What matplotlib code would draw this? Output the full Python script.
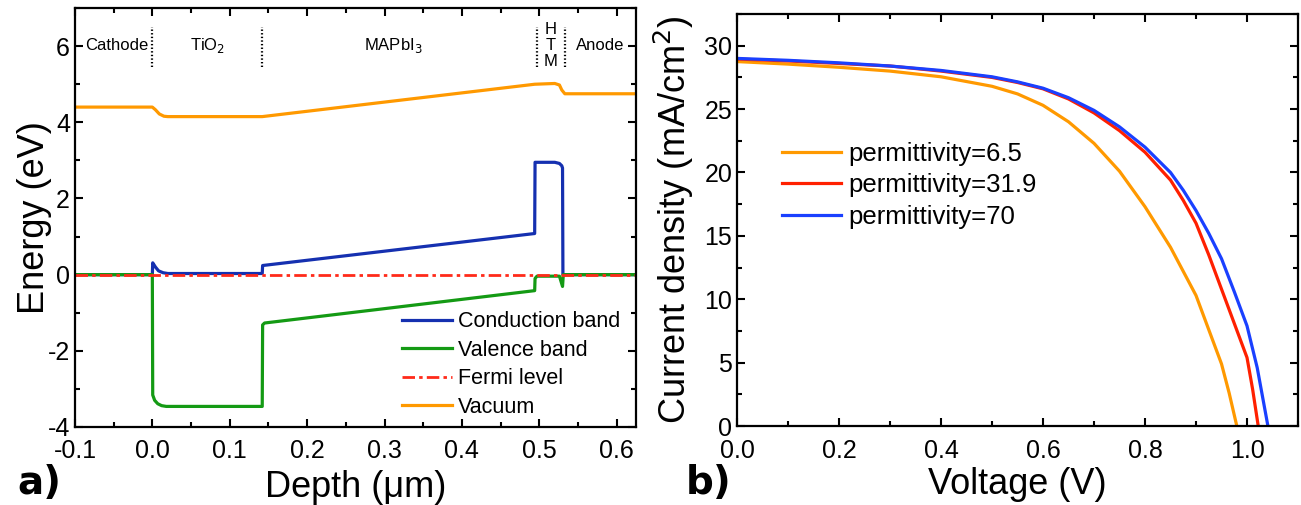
import matplotlib
matplotlib.use("Agg")
import matplotlib.pyplot as plt
from matplotlib.ticker import MultipleLocator, FormatStrFormatter

plt.rcParams['font.family'] = ['Liberation Sans', 'DejaVu Sans']
plt.rcParams['axes.unicode_minus'] = False
plt.rcParams['lines.scale_dashes'] = False

# ---- band diagram (a) ----
vac_x = [-0.1, 0.0, 0.004, 0.009, 0.015, 0.02, 0.142, 0.494, 0.52, 0.526, 0.529, 0.533, 0.625]
vac_e = [4.4, 4.4, 4.33, 4.22, 4.16, 4.15, 4.15, 5.0, 5.02, 4.98, 4.85, 4.75, 4.75]

cb_x = [-0.1, 0.0, 0.0005, 0.004, 0.008, 0.014, 0.02, 0.142, 0.1425, 0.494, 0.4945, 0.52, 0.526, 0.529, 0.530, 0.5305, 0.625]
cb_e = [0.0, 0.0, 0.31, 0.2, 0.1, 0.05, 0.03, 0.03, 0.24, 1.08, 2.95, 2.95, 2.92, 2.86, 2.8, 0.0, 0.0]

vb_x = [-0.1, 0.0, 0.0005, 0.003, 0.007, 0.012, 0.018, 0.142, 0.1425, 0.145, 0.494, 0.4945, 0.497, 0.526, 0.530, 0.531, 0.625]
vb_e = [0.0, 0.0, -3.16, -3.3, -3.39, -3.44, -3.46, -3.46, -1.32, -1.27, -0.42, -0.1, -0.04, -0.04, -0.31, 0.0, 0.0]

fermi_x = [-0.1, 0.625]
fermi_e = [0.0, 0.0]

boundaries = [0.0, 0.142, 0.497, 0.533]
regions = ['Cathode', 'TiO$_2$', 'MAPbI$_3$', 'H\nT\nM', 'Anode']
region_x = [-0.046, 0.071, 0.311, 0.515, 0.578]

# ---- J-V curves (b) ----
v_65 = [0.0, 0.1, 0.2, 0.3, 0.4, 0.5, 0.55, 0.6, 0.65, 0.7, 0.75, 0.8, 0.85, 0.9, 0.925, 0.95, 0.965, 0.98]
j_65 = [28.75, 28.55, 28.3, 28.0, 27.55, 26.8, 26.2, 25.3, 24.0, 22.3, 20.1, 17.3, 14.1, 10.3, 7.6, 4.9, 2.6, 0.0]

v_319 = [0.0, 0.1, 0.2, 0.3, 0.4, 0.5, 0.55, 0.6, 0.65, 0.7, 0.75, 0.8, 0.85, 0.875, 0.9, 0.925, 0.95, 0.975, 1.0, 1.011, 1.022]
j_319 = [28.95, 28.8, 28.6, 28.4, 28.0, 27.5, 27.1, 26.6, 25.8, 24.7, 23.3, 21.6, 19.4, 17.8, 16.0, 13.5, 10.8, 8.1, 5.4, 2.9, 0.0]

v_70 = [0.0, 0.1, 0.2, 0.3, 0.4, 0.5, 0.55, 0.6, 0.65, 0.7, 0.75, 0.8, 0.85, 0.875, 0.9, 0.925, 0.95, 0.975, 1.0, 1.02, 1.041]
j_70 = [29.0, 28.85, 28.65, 28.4, 28.05, 27.55, 27.15, 26.65, 25.9, 24.9, 23.6, 22.0, 20.0, 18.6, 17.0, 15.2, 13.2, 10.6, 7.9, 4.6, 0.0]

fig = plt.figure(figsize=(13.01, 5.05), dpi=100)
ax1 = fig.add_axes([0.0576, 0.1545, 0.4313, 0.8295])
ax2 = fig.add_axes([0.5665, 0.1564, 0.4312, 0.8158])

lw = 2.3
h_vac, = ax1.plot(vac_x, vac_e, color='#ff9900', lw=lw, label='Vacuum')
h_cb, = ax1.plot(cb_x, cb_e, color='#1530b0', lw=lw, label='Conduction band')
h_vb, = ax1.plot(vb_x, vb_e, color='#149a14', lw=lw, label='Valence band')
h_f, = ax1.plot(fermi_x, fermi_e, color='#ff2a1a', lw=2.0, dashes=(9, 3, 2.5, 3), label='Fermi level')

for b in boundaries:
    ax1.plot([b, b], [5.45, 6.5], color='black', lw=1.6, ls=(0, (1, 1.6)))
for name, xr in zip(regions, region_x):
    ax1.text(xr, 6.02, name, ha='center', va='center', fontsize=12, linespacing=1.1)

ax1.set_xlim(-0.1, 0.625)
ax1.set_ylim(-4, 7)
ax1.xaxis.set_major_locator(MultipleLocator(0.1))
ax1.xaxis.set_minor_locator(MultipleLocator(0.05))
ax1.xaxis.set_major_formatter(FormatStrFormatter('%.1f'))
ax1.yaxis.set_major_locator(MultipleLocator(2))
ax1.yaxis.set_minor_locator(MultipleLocator(1))
ax1.set_xlabel('Depth (\u03bcm)', fontsize=26, labelpad=5)
ax1.set_ylabel('Energy (eV)', fontsize=26, labelpad=-3)
ax1.legend(handles=[h_cb, h_vb, h_f, h_vac], loc='upper left', bbox_to_anchor=(0.583, 0.276),
           frameon=False, fontsize=15.5, borderpad=0, borderaxespad=0,
           handlelength=2.3, handletextpad=0.3, labelspacing=0.35)

ax2.plot(v_65, j_65, color='#ff9900', lw=lw, label='permittivity=6.5')
ax2.plot(v_319, j_319, color='#ff2000', lw=lw, label='permittivity=31.9')
ax2.plot(v_70, j_70, color='#1a40ff', lw=lw, label='permittivity=70')
ax2.set_xlim(0, 1.1)
ax2.set_ylim(0, 32.5)
ax2.xaxis.set_major_locator(MultipleLocator(0.2))
ax2.xaxis.set_minor_locator(MultipleLocator(0.1))
ax2.xaxis.set_major_formatter(FormatStrFormatter('%.1f'))
ax2.yaxis.set_major_locator(MultipleLocator(5))
ax2.yaxis.set_minor_locator(MultipleLocator(2.5))
ax2.set_xlabel('Voltage (V)', fontsize=26, labelpad=3)
ax2.set_ylabel('Current density (mA/cm$^2$)', fontsize=26, labelpad=6)
ax2.legend(loc='upper left', bbox_to_anchor=(0.08, 0.69), frameon=False, fontsize=18.5,
           borderpad=0, borderaxespad=0, handlelength=2.3, handletextpad=0.3, labelspacing=0.3)

for ax in (ax1, ax2):
    for s in ax.spines.values():
        s.set_linewidth(1.6)
    ax.tick_params(which='both', direction='in', top=True, right=True, width=1.5)
    ax.tick_params(which='major', length=6, labelsize=18)
    ax.tick_params(which='minor', length=3.5)
    ax.tick_params(axis='x', which='major', pad=9)

fig.text(0.013, 0.022, 'a)', fontsize=28, fontweight='bold', family='DejaVu Sans')
fig.text(0.527, 0.022, 'b)', fontsize=28, fontweight='bold', family='DejaVu Sans')

fig.savefig('out.png', dpi=100)
